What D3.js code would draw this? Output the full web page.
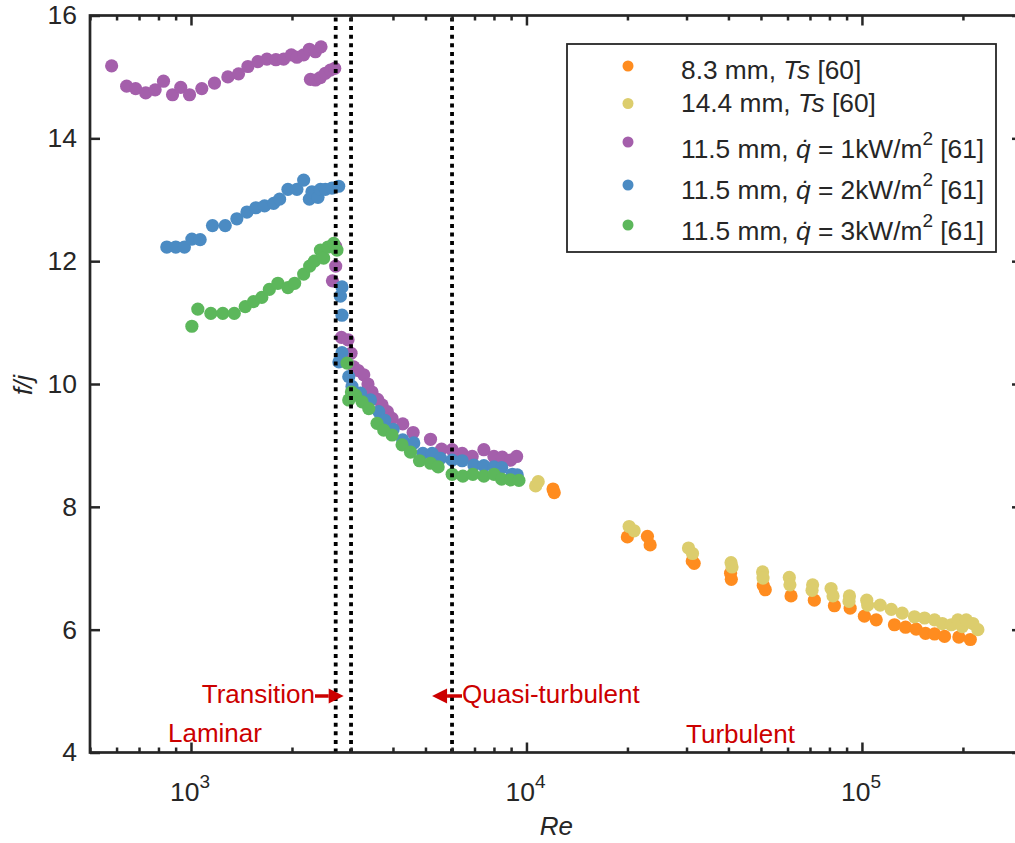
<!DOCTYPE html>
<html>
<head>
<meta charset="utf-8">
<script src="https://cdn.jsdelivr.net/npm/d3@7"></script>
<style>
  body { margin: 0; background: #fff; }
  svg text { font-family: "Liberation Sans", Arial, sans-serif; fill: #262626; }
</style>
</head>
<body>
<div id="chart"></div>
<script>
// 8.3 mm, Ts [60]
const reTs83 = [12000, 12100, 19990, 22940, 23370, 31620, 31200, 40590, 40800, 51510, 50800, 61460, 72130, 82780, 92230, 101700, 110300, 125000, 134900, 145100, 154700, 164600, 176300, 194500, 210400];
const fjTs83 = [8.29, 8.23, 7.51, 7.52, 7.38, 7.08, 7.12, 6.92, 6.82, 6.65, 6.72, 6.55, 6.48, 6.39, 6.35, 6.22, 6.16, 6.08, 6.04, 6.01, 5.94, 5.93, 5.89, 5.88, 5.84];

// 14.4 mm, Ts [60]
const reTs144 = [10650, 10840, 20230, 20940, 30410, 31260, 40720, 41000, 50570, 50720, 60740, 61000, 71290, 71000, 80910, 82000, 91780, 91500, 103350, 104000, 113300, 122300, 131800, 143400, 153700, 164600, 173600, 184600, 193200, 199000, 204600, 214100, 221600];
const fjTs144 = [8.34, 8.41, 7.68, 7.61, 7.33, 7.24, 7.09, 7.02, 6.94, 6.84, 6.85, 6.73, 6.73, 6.64, 6.67, 6.55, 6.55, 6.46, 6.48, 6.40, 6.40, 6.33, 6.27, 6.21, 6.19, 6.16, 6.10, 6.08, 6.16, 6.05, 6.16, 6.10, 6.00];

// 11.5 mm, q = 1 kW/m2 [61]
const reQ1 = [580, 643, 684, 733, 782, 828, 881, 932, 990, 1077, 1175, 1288, 1386, 1478, 1583, 1684, 1791, 1889, 1991, 2069, 2167, 2254, 2349, 2441, 2270, 2349, 2431, 2515, 2603, 2682, 2700, 2700, 2640, 2808, 2938, 3000, 3055, 3150, 3273, 3370, 3465, 3600, 3712, 3850, 3976, 4278, 4594, 5176, 5583, 6004, 6433, 6890, 7465, 7998, 8470, 8970, 9348];
const fjQ1 = [15.18, 14.85, 14.81, 14.74, 14.79, 14.93, 14.71, 14.83, 14.71, 14.81, 14.90, 15.00, 15.05, 15.17, 15.25, 15.29, 15.28, 15.29, 15.36, 15.32, 15.36, 15.45, 15.41, 15.49, 14.96, 14.95, 14.99, 15.06, 15.11, 15.14, 12.24, 11.92, 11.68, 10.76, 10.72, 10.5, 10.28, 10.22, 10.15, 10.0, 9.87, 9.75, 9.66, 9.55, 9.44, 9.35, 9.21, 9.10, 8.94, 8.93, 8.87, 8.82, 8.93, 8.82, 8.81, 8.76, 8.82];

// 11.5 mm, q = 2 kW/m2 [61]
const reQ2 = [847, 901, 956, 1006, 1065, 1159, 1265, 1370, 1468, 1561, 1657, 1763, 1837, 1945, 2069, 2167, 2254, 2294, 2391, 2431, 2515, 2632, 2756, 2819, 2789, 2819, 2819, 2760, 2953, 3020, 3200, 3427, 3628, 3780, 4004, 4278, 4615, 4909, 5234, 5546, 6004, 6433, 6970, 7465, 7998, 8433, 9070, 9387];
const fjQ2 = [12.23, 12.23, 12.23, 12.36, 12.35, 12.58, 12.58, 12.69, 12.80, 12.87, 12.90, 12.94, 13.01, 13.17, 13.17, 13.32, 13.01, 13.13, 13.04, 13.17, 13.17, 13.19, 13.22, 11.58, 11.43, 11.12, 10.51, 10.36, 10.12, 9.96, 9.85, 9.74, 9.55, 9.41, 9.26, 9.09, 9.04, 8.87, 8.87, 8.79, 8.76, 8.75, 8.68, 8.67, 8.65, 8.64, 8.53, 8.52];

// 11.5 mm, q = 3 kW/m2 [61]
const reQ3 = [1006, 1048, 1146, 1244, 1346, 1451, 1536, 1626, 1712, 1816, 1945, 2037, 2167, 2258, 2333, 2431, 2486, 2561, 2663, 2724, 2919, 3008, 2953, 3092, 3236, 3388, 3586, 3754, 3976, 4258, 4512, 4799, 5176, 5455, 6004, 6463, 6923, 7465, 8004, 8433, 8970, 9497];
const fjQ3 = [10.94, 11.22, 11.15, 11.15, 11.15, 11.26, 11.34, 11.41, 11.54, 11.64, 11.57, 11.64, 11.79, 11.92, 12.00, 12.18, 12.05, 12.23, 12.29, 12.18, 10.34, 9.87, 9.74, 9.82, 9.71, 9.60, 9.36, 9.25, 9.17, 9.01, 8.89, 8.75, 8.71, 8.65, 8.53, 8.50, 8.53, 8.50, 8.53, 8.45, 8.44, 8.43];

// regime boundaries (Re)
const boundaries = [2700, 3000, 6000];

// ticks
const xMajor = [1e3, 1e4, 1e5];
const xMajorExp = ["3", "4", "5"];
const yTicks = [4, 6, 8, 10, 12, 14, 16];

const W = 1015, H = 843;
const colors = ["#ff8c1f", "#dccd6d", "#a45fab", "#4b8bc3", "#5cb75b"];

const series = [
  { re: reTs83, fj: fjTs83, color: colors[0] },
  { re: reTs144, fj: fjTs144, color: colors[1] },
  { re: reQ1, fj: fjQ1, color: colors[2] },
  { re: reQ2, fj: fjQ2, color: colors[3] },
  { re: reQ3, fj: fjQ3, color: colors[4] }
];

const pLeft = 90, pRight = 1022, pTop = 15.5, pBottom = 752.5;

const svg = d3.select("#chart").append("svg")
  .attr("width", W).attr("height", H);

const x = d3.scaleLog().domain([500, 3e5]).range([pLeft, pRight]);
const y = d3.scaleLinear().domain([4, 16]).range([pBottom, pTop]);

const xMinor = x.ticks().filter(t => !xMajor.includes(t));

// 點
series.forEach(s => {
  svg.append("g")
    .selectAll("circle")
    .data(s.re.map((r, i) => [r, s.fj[i]]))
    .join("circle")
    .attr("cx", d => x(d[0]))
    .attr("cy", d => y(d[1]))
    .attr("r", 6.6)
    .style("fill", s.color);
});

// 虛線 (regime boundaries)
svg.append("g")
  .selectAll("line")
  .data(boundaries)
  .join("line")
  .attr("x1", d => x(d)).attr("x2", d => x(d))
  .attr("y1", pTop + 2).attr("y2", pBottom)
  .style("stroke", "#000")
  .style("stroke-width", 3.8)
  .style("stroke-dasharray", "4,4.6");

// 軸
const axisCol = "#262626";
function styleAxis(g) {
  g.select(".domain").remove();
  g.selectAll(".tick line").style("stroke", axisCol).style("stroke-width", 2.5);
}

svg.append("g").attr("transform", `translate(0,${pBottom})`)
  .call(d3.axisBottom(x).tickValues(xMajor).tickSize(-10).tickFormat(""))
  .call(styleAxis);
svg.append("g").attr("transform", `translate(0,${pBottom})`)
  .call(d3.axisBottom(x).tickValues(xMinor).tickSize(-5).tickFormat(""))
  .call(styleAxis);
svg.append("g").attr("transform", `translate(0,${pTop})`)
  .call(d3.axisTop(x).tickValues(xMajor).tickSize(-10).tickFormat(""))
  .call(styleAxis);
svg.append("g").attr("transform", `translate(0,${pTop})`)
  .call(d3.axisTop(x).tickValues(xMinor).tickSize(-5).tickFormat(""))
  .call(styleAxis);

const yAxis = svg.append("g").attr("transform", `translate(${pLeft},0)`)
  .call(d3.axisLeft(y).tickValues(yTicks).tickSize(-10).tickPadding(13).tickFormat(d3.format("d")))
  .call(styleAxis);
yAxis.selectAll("text")
  .style("font-family", "'Liberation Sans', Arial, sans-serif")
  .style("font-size", "26.5px")
  .style("fill", axisCol);

svg.append("g").attr("transform", `translate(${pRight},0)`)
  .call(d3.axisRight(y).tickValues(yTicks).tickSize(-10).tickFormat(""))
  .call(styleAxis);

// frame
svg.append("rect")
  .attr("x", pLeft).attr("y", pTop)
  .attr("width", pRight - pLeft).attr("height", pBottom - pTop)
  .style("fill", "none")
  .style("stroke", axisCol)
  .style("stroke-width", 2.7);

// x tick labels 10^n
xMajor.forEach((v, i) => {
  const t = svg.append("text")
    .attr("x", x(v) - 1)
    .attr("y", 801)
    .attr("text-anchor", "middle")
    .style("font-size", "26.5px");
  t.append("tspan").text("10");
  t.append("tspan").attr("dy", -13).style("font-size", "19px").text(xMajorExp[i]);
});

// axis labels
svg.append("text")
  .attr("x", x(1e4) + 30).attr("y", 835)
  .attr("text-anchor", "middle")
  .style("font-size", "26px").style("font-style", "italic")
  .text("Re");

svg.append("text")
  .attr("transform", "translate(32,385) rotate(-90)")
  .attr("text-anchor", "middle")
  .style("font-size", "26px").style("font-style", "italic")
  .text("f/j");

// 區域標示
const red = "#cc0000";
function annot(txt, xp, yp, anchor) {
  svg.append("text")
    .attr("x", xp).attr("y", yp)
    .attr("text-anchor", anchor)
    .style("font-size", "26px")
    .style("fill", red)
    .text(txt);
}
function arrow(x0, x1, yp) {
  const dir = x1 > x0 ? 1 : -1;
  const base = x1 - dir * 15;
  svg.append("line")
    .attr("x1", x0).attr("x2", base)
    .attr("y1", yp).attr("y2", yp)
    .style("stroke", red).style("stroke-width", 3.5);
  svg.append("path")
    .attr("d", `M${x1},${yp} L${base},${yp - 7.5} L${base},${yp + 7.5} Z`)
    .style("fill", red);
}

annot("Transition", 315, 703, "end");
arrow(315, x(boundaries[0]) + 8, 696);
annot("Quasi-turbulent", 462, 703, "start");
arrow(462, x(boundaries[2]) - 20, 696);
annot("Laminar", 168, 742, "start");
annot("Turbulent", 686, 743, "start");

// 圖例
const legend = svg.append("g");
legend.append("rect")
  .attr("x", 567).attr("y", 44)
  .attr("width", 429).attr("height", 208)
  .style("fill", "#fff")
  .style("stroke", axisCol)
  .style("stroke-width", 1.8);

const markerY = [66, 103.5, 142, 185, 225];
const textY = [78.5, 112, 158, 198.5, 240];
const qVals = ["1", "2", "3"];

series.forEach((s, i) => {
  legend.append("circle")
    .attr("cx", 628).attr("cy", markerY[i]).attr("r", 5.5)
    .style("fill", s.color);
  const t = legend.append("text")
    .attr("x", 681).attr("y", textY[i])
    .style("font-size", "26.3px");
  if (i < 2) {
    t.append("tspan").text(i === 0 ? "8.3 mm, " : "14.4 mm, ");
    t.append("tspan").style("font-style", "italic").text("Ts");
    t.append("tspan").text(" [60]");
  } else {
    t.append("tspan").text("11.5 mm, ");
    t.append("tspan").style("font-style", "italic").text("q\u0307");
    t.append("tspan").text(" = " + qVals[i - 2] + "kW/m");
    t.append("tspan").attr("dy", -13).style("font-size", "19px").text("2");
    t.append("tspan").attr("dy", 13).text(" [61]");
  }
});
</script>
</body>
</html>
